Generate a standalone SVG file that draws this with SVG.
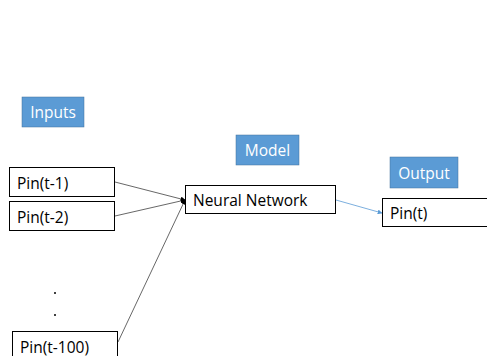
<svg xmlns="http://www.w3.org/2000/svg" width="487" height="356" viewBox="0 0 487 356">
<style>
.lbl{fill:#5b9bd5;stroke:#41719c;stroke-width:0.5}
.lt{font-family:"Open Sans","Liberation Sans",sans-serif;font-size:15.5px;fill:#fff}
.box{fill:#fff;stroke:#000;stroke-width:1}
.t{font-family:"Open Sans","Liberation Sans",sans-serif;font-size:15.5px;fill:#000}
.c{stroke:#404040;stroke-width:0.8;fill:none}
.cb{stroke:#5b9bd5;stroke-width:0.8;fill:none}
</style>
<defs>
<marker id="ab" viewBox="0 0 10 10" refX="9" refY="5" markerWidth="6" markerHeight="6" orient="auto"><path d="M0,0L10,5L0,10z" fill="#000"/></marker>
<marker id="abl" viewBox="0 0 10 10" refX="9" refY="5" markerWidth="6" markerHeight="6" orient="auto"><path d="M0,0L10,5L0,10z" fill="#5b9bd5"/></marker>
</defs>
<rect width="487" height="356" fill="#fff"/>
<g id="connectors">
<line class="c" x1="115" y1="182" x2="185" y2="200" marker-end="url(#ab)"/>
<line class="c" x1="115" y1="216" x2="185" y2="200" marker-end="url(#ab)"/>
<line class="c" x1="118" y1="342" x2="185" y2="200" marker-end="url(#ab)"/>
<line class="cb" x1="336" y1="200" x2="382" y2="213" marker-end="url(#abl)"/>
</g>
<g id="inputs-label"><rect class="lbl" x="22" y="97" width="62" height="30"/><text class="lt" x="53" y="118" text-anchor="middle">Inputs</text></g>
<g id="model-label"><rect class="lbl" x="236" y="135" width="63" height="30"/><text class="lt" x="267.5" y="156" text-anchor="middle">Model</text></g>
<g id="output-label"><rect class="lbl" x="390" y="157" width="68" height="31"/><text class="lt" x="424" y="178.5" text-anchor="middle">Output</text></g>
<g id="pin1"><rect class="box" x="9.5" y="167.5" width="105" height="29"/><text class="t" x="17" y="188.5">Pin(t-1)</text></g>
<g id="pin2"><rect class="box" x="9.5" y="201.5" width="105" height="29"/><text class="t" x="17" y="222.5">Pin(t-2)</text></g>
<g id="pin100"><rect class="box" x="12.5" y="331.5" width="105" height="30"/><text class="t" x="20" y="352.5">Pin(t-100)</text></g>
<g id="dots"><circle cx="55" cy="293" r="1" fill="#000"/><circle cx="55" cy="315" r="1" fill="#000"/></g>
<g id="nn"><rect class="box" x="185.5" y="185.5" width="150" height="28"/><text class="t" x="193" y="205.5">Neural Network</text></g>
<g id="pint"><rect class="box" x="382.5" y="198.5" width="110" height="28"/><text class="t" x="390" y="218.5">Pin(t)</text></g>
</svg>
